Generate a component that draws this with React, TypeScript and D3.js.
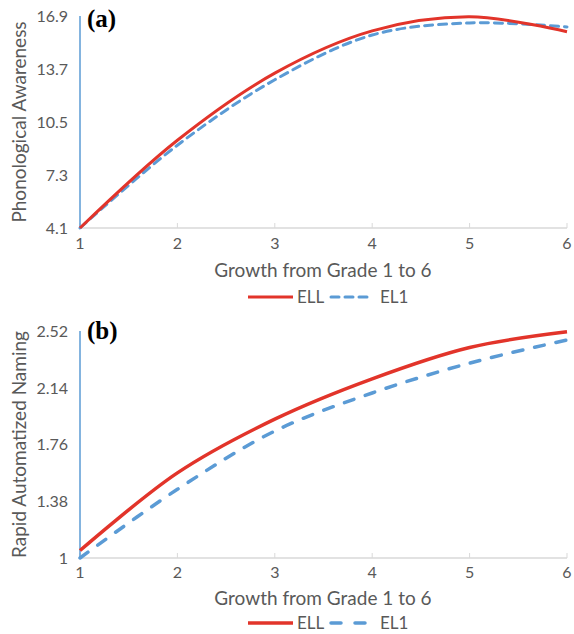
import React from "react";
import * as d3 from "d3";

const grades = [1, 2, 3, 4, 5, 6];
const paELL = [4.1, 9.4, 13.45, 16.0, 16.85, 15.95];
const paEL1 = [4.1, 9.1, 13.05, 15.75, 16.48, 16.24];
const paTicks = [4.1, 7.3, 10.5, 13.7, 16.9];
const ranELL = [1.05, 1.57, 1.93, 2.2, 2.41, 2.515];
const ranEL1 = [1.0, 1.46, 1.85, 2.105, 2.305, 2.46];
const ranTicks = [1, 1.38, 1.76, 2.14, 2.52];
const xTitle = "Growth from Grade 1 to 6";
const seriesNames = ["ELL", "EL1"];

const RED = "#e2342a";
const BLUE = "#5b9bd5";
const GRAY = "#595959";
const FONT = "Lato, 'Open Sans', sans-serif";

type PanelProps = {
  label: string;
  labelY: number;
  yTitle: string;
  ell: number[];
  el1: number[];
  ticks: number[];
  top: number;
  bottom: number;
  tickLabelY: number;
  titleY: number;
  legendY: number;
  dash: string;
  legendDash: string;
  lw: number;
};

function Panel(p: PanelProps) {
  const x = d3.scaleLinear().domain([1, 6]).range([80, 567]);
  const y = d3
    .scaleLinear()
    .domain([p.ticks[0], p.ticks[p.ticks.length - 1]])
    .range([p.bottom, p.top]);
  const line = d3
    .line<number>()
    .x((_, i) => x(grades[i]))
    .y((d) => y(d))
    .curve(d3.curveCatmullRom.alpha(0.5));
  return (
    <g>
      <line x1={80} x2={567} y1={p.bottom} y2={p.bottom} stroke="#d9d9d9" strokeWidth={1.5} />
      {grades.map((g) => (
        <line key={g} x1={x(g)} x2={x(g)} y1={p.bottom} y2={p.bottom - 5} stroke="#d9d9d9" strokeWidth={1} />
      ))}
      <line x1={80} x2={80} y1={p.top} y2={p.bottom} stroke={BLUE} strokeWidth={1.5} />
      {p.ticks.map((t) => (
        <text key={t} x={68} y={y(t)} dy="0.36em" textAnchor="end" fontSize={16} fill={GRAY} fontFamily={FONT}>
          {String(t)}
        </text>
      ))}
      {grades.map((g) => (
        <text key={g} x={x(g)} y={p.tickLabelY} textAnchor="middle" fontSize={16} fill={GRAY} fontFamily={FONT}>
          {g}
        </text>
      ))}
      <text
        transform={`translate(26,${(p.top + p.bottom) / 2}) rotate(-90)`}
        textAnchor="middle"
        fontSize={19}
        fill={GRAY}
        fontFamily={FONT}
      >
        {p.yTitle}
      </text>
      <text x={323} y={p.titleY} textAnchor="middle" fontSize={19} fill={GRAY} fontFamily={FONT}>
        {xTitle}
      </text>
      <path d={line(p.el1) || ""} fill="none" stroke={BLUE} strokeWidth={p.lw} strokeDasharray={p.dash} strokeLinecap="round" />
      <path d={line(p.ell) || ""} fill="none" stroke={RED} strokeWidth={p.lw} />
      <text x={87} y={p.labelY} fontSize={25} fontWeight="bold" fontFamily="'Liberation Serif', 'Times New Roman', serif" fill="#000">
        {p.label}
      </text>
      <g>
        <line x1={248} x2={293} y1={p.legendY} y2={p.legendY} stroke={RED} strokeWidth={p.lw} />
        <text x={297} y={p.legendY} dy="0.36em" fontSize={17} fill={GRAY} fontFamily={FONT}>
          {seriesNames[0]}
        </text>
        <line x1={331} x2={371} y1={p.legendY} y2={p.legendY} stroke={BLUE} strokeWidth={p.lw} strokeDasharray={p.legendDash} strokeLinecap="round" />
        <text x={380} y={p.legendY} dy="0.36em" fontSize={17} fill={GRAY} fontFamily={FONT}>
          {seriesNames[1]}
        </text>
      </g>
    </g>
  );
}

export default function App() {
  return (
    <svg width={574} height={634} style={{ position: "absolute", left: 0, top: 0, background: "#fff" }}>
      <rect width={574} height={634} fill="#fff" />
      <Panel
        label="(a)"
        labelY={27}
        yTitle="Phonological Awareness"
        ell={paELL}
        el1={paEL1}
        ticks={paTicks}
        top={16}
        bottom={228}
        tickLabelY={249}
        titleY={277}
        legendY={297}
        dash="8 6"
        legendDash="8 6"
        lw={3}
      />
      <Panel
        label="(b)"
        labelY={339}
        yTitle="Rapid Automatized Naming"
        ell={ranELL}
        el1={ranEL1}
        ticks={ranTicks}
        top={331}
        bottom={558}
        tickLabelY={578}
        titleY={605}
        legendY={623}
        dash="10 12"
        legendDash="10 14"
        lw={3.5}
      />
    </svg>
  );
}
